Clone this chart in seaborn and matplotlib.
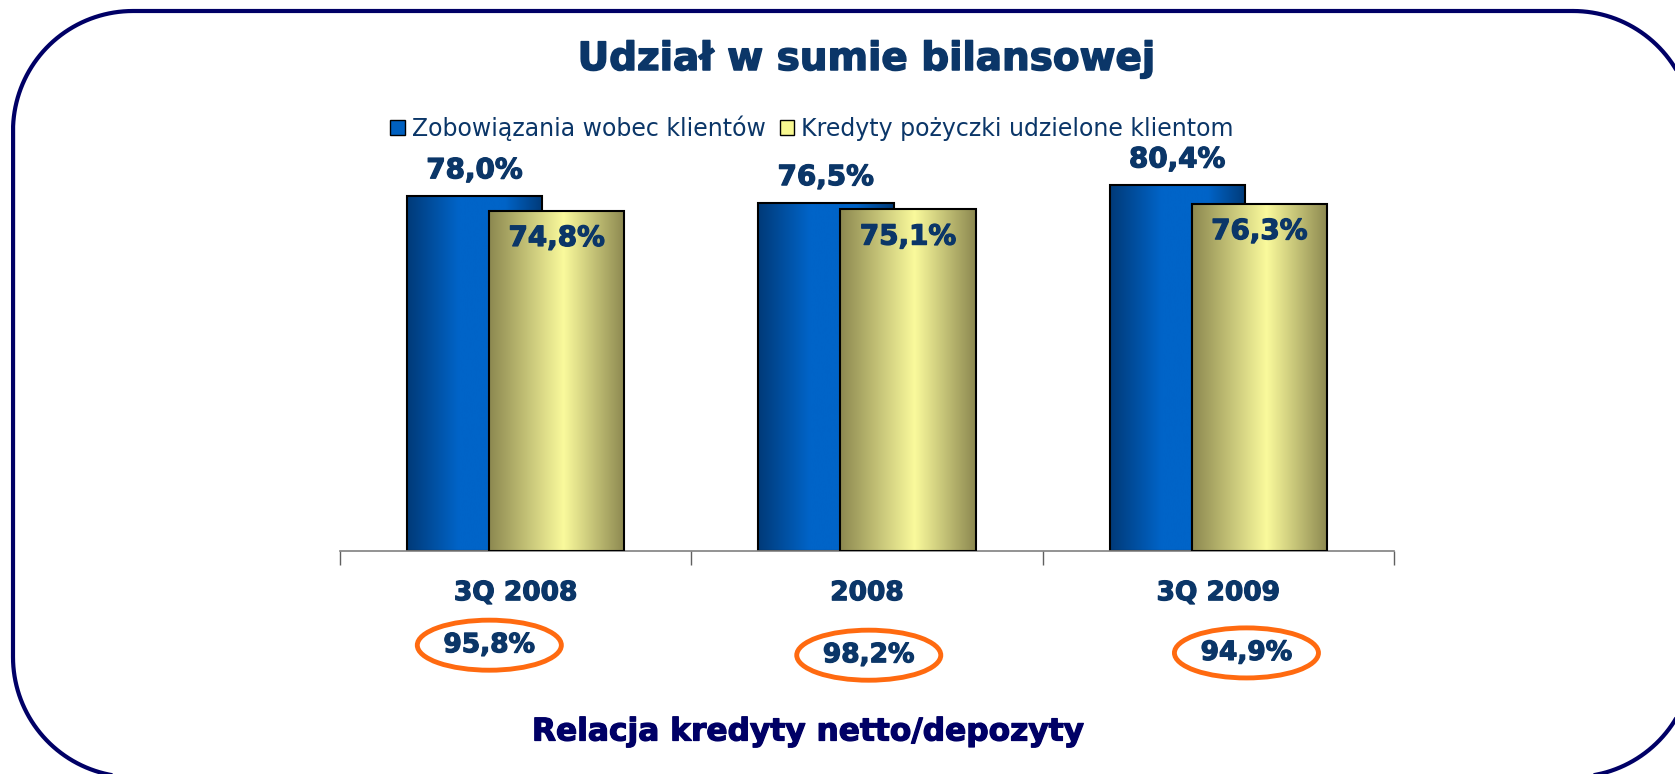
import matplotlib
matplotlib.use('Agg')
import matplotlib.pyplot as plt
import matplotlib.patheffects as pe
import numpy as np
import pandas as pd
import seaborn as sns
from matplotlib.colors import LinearSegmentedColormap
from matplotlib.lines import Line2D
from matplotlib.patches import Ellipse, Patch

# data
categories = ['3Q 2008', '2008', '3Q 2009']
series = ['Zobowiązania wobec klientów', 'Kredyty pożyczki udzielone klientom']
zobowiazania = [78.0, 76.5, 80.4]
kredyty = [74.8, 75.1, 76.3]
relacja = [95.8, 98.2, 94.9]

W, H = 1675, 774
NAVY = '#0b3668'
FRAME = '#000066'
ORANGE = '#ff6a10'
BOLDER = [pe.withStroke(linewidth=0.9, foreground=NAVY)]

blue_cmap = LinearSegmentedColormap.from_list(
    'blue', [(0, '#003a78'), (0.38, '#0064c8'), (0.72, '#0064c8'), (1, '#003a78')])
yellow_cmap = LinearSegmentedColormap.from_list(
    'yellow', [(0, '#8c8850'), (0.55, '#fafa9c'), (1, '#8c8850')])


def pct(v):
    return f'{v:.1f}%'.replace('.', ',')


def rounded_frame(left, top, right, bottom, r, n=40):
    """Outline of a rounded rectangle in pixel coords (y down)."""
    pts = []
    corners = [(right - r, top + r, -90, 0), (right - r, bottom - r, 0, 90),
               (left + r, bottom - r, 90, 180), (left + r, top + r, 180, 270)]
    for cx, cy, a0, a1 in corners:
        a = np.radians(np.linspace(a0, a1, n))
        pts += list(zip(cx + r * np.cos(a), cy + r * np.sin(a)))
    pts.append(pts[0])
    xs = np.array([p[0] for p in pts]) / W
    ys = 1 - np.array([p[1] for p in pts]) / H
    return xs, ys


def main():
    sns.set_theme(style='white')
    plt.rcParams['font.family'] = ['DejaVu Sans']

    df = pd.DataFrame({
        'okres': categories * 2,
        'udzial': zobowiazania + kredyty,
        'seria': [series[0]] * 3 + [series[1]] * 3,
    })

    fig = plt.figure(figsize=(W / 100, H / 100), dpi=100)
    ax = fig.add_axes([340 / W, 1 - 551 / H, 1054 / W, 409.5 / H])

    sns.barplot(
        data=df, x='okres', y='udzial', hue='seria', hue_order=series,
        order=categories, width=0.468, gap=-0.645, dodge=True,
        palette=['#0064c8', '#fafa9c'], edgecolor='black', linewidth=1.5,
        legend=False, ax=ax,
    )

    # gradient fill clipped to each bar, yellow bars in front of blue ones
    for k, patch in enumerate(list(ax.patches)):
        is_blue = k < len(categories)
        z = 2.0 if is_blue else 2.6
        cmap = blue_cmap if is_blue else yellow_cmap
        x0, y0 = patch.get_x(), patch.get_y()
        w, h = patch.get_width(), patch.get_height()
        grad = np.linspace(0, 1, 256).reshape(1, -1)
        im = ax.imshow(grad, cmap=cmap, extent=[x0, x0 + w, y0, y0 + h],
                       aspect='auto', zorder=z - 0.1, interpolation='bicubic')
        im.set_clip_path(patch)
        patch.set_facecolor('none')
        patch.set_zorder(z)

        cx = x0 + w / 2
        if is_blue:
            ax.text(cx, h + 2.6, pct(h), ha='center', va='bottom', fontsize=20,
                    fontweight='bold', color=NAVY, zorder=5, path_effects=BOLDER)
        else:
            ax.text(cx, h - 6.0, pct(h), ha='center', va='center', fontsize=20,
                    fontweight='bold', color=NAVY, zorder=5, path_effects=BOLDER)

    ax.set_xlim(-0.5, 2.5)
    ax.set_ylim(0, 90)
    ax.set_xlabel('')
    ax.set_ylabel('')
    ax.set_yticks([])
    for side in ['left', 'top', 'right']:
        ax.spines[side].set_visible(False)
    ax.spines['bottom'].set_color('#808080')
    ax.spines['bottom'].set_linewidth(1.2)
    ax.set_xticks([-0.5, 0.5, 1.5, 2.5])
    ax.set_xticklabels([])
    ax.tick_params(axis='x', which='major', length=10, width=1, color='#606060',
                   direction='out', bottom=True)
    ax.set_xticks([0, 1, 2], minor=True)
    ax.set_xticklabels(categories, minor=True, fontsize=19, fontweight='bold',
                       color=NAVY)
    for lbl in ax.get_xticklabels(minor=True):
        lbl.set_path_effects(BOLDER)
    ax.tick_params(axis='x', which='minor', length=0, pad=21)

    # loan/deposit ratio in orange ellipses under each period
    ell_dx = [-0.075, 0.005, 0.08]
    ell_y = [-20.7, -22.9, -22.4]
    for i, val in enumerate(relacja):
        ax.add_patch(Ellipse((i + ell_dx[i], ell_y[i]), width=0.41, height=11,
                             transform=ax.transData, fill=False,
                             edgecolor=ORANGE, linewidth=3.5, clip_on=False))
        ax.text(i + ell_dx[i], ell_y[i], pct(val), ha='center', va='center',
                fontsize=19, fontweight='bold', color=NAVY, clip_on=False,
                path_effects=BOLDER)

    fig.text(866 / W, 1 - 59 / H, 'Udział w sumie bilansowej', ha='center',
             va='center', fontsize=28, fontweight='bold', color=NAVY,
             path_effects=[pe.withStroke(linewidth=1.1, foreground=NAVY)])
    fig.text(808 / W, 1 - 732 / H, 'Relacja kredyty netto/depozyty',
             ha='center', va='center', fontsize=22.5, fontweight='bold',
             color=FRAME,
             path_effects=[pe.withStroke(linewidth=0.9, foreground=FRAME)])

    handles = [Patch(facecolor='#0060c0', edgecolor='black', linewidth=1),
               Patch(facecolor='#f8f890', edgecolor='black', linewidth=1)]
    fig.legend(handles, series, loc='center',
               bbox_to_anchor=(812 / W, 1 - 128 / H), ncol=2,
               frameon=False, handlelength=0.6, handleheight=0.6,
               handletextpad=0.3, columnspacing=0.6, labelcolor=NAVY,
               prop={'size': 17})

    fx, fy = rounded_frame(13, 11, 1693, 777, 120)
    fig.add_artist(Line2D(fx, fy, transform=fig.transFigure, color=FRAME,
                          linewidth=3, solid_joinstyle='round'))

    fig.savefig('out.png', dpi=100)
    plt.close(fig)


if __name__ == '__main__':
    main()
